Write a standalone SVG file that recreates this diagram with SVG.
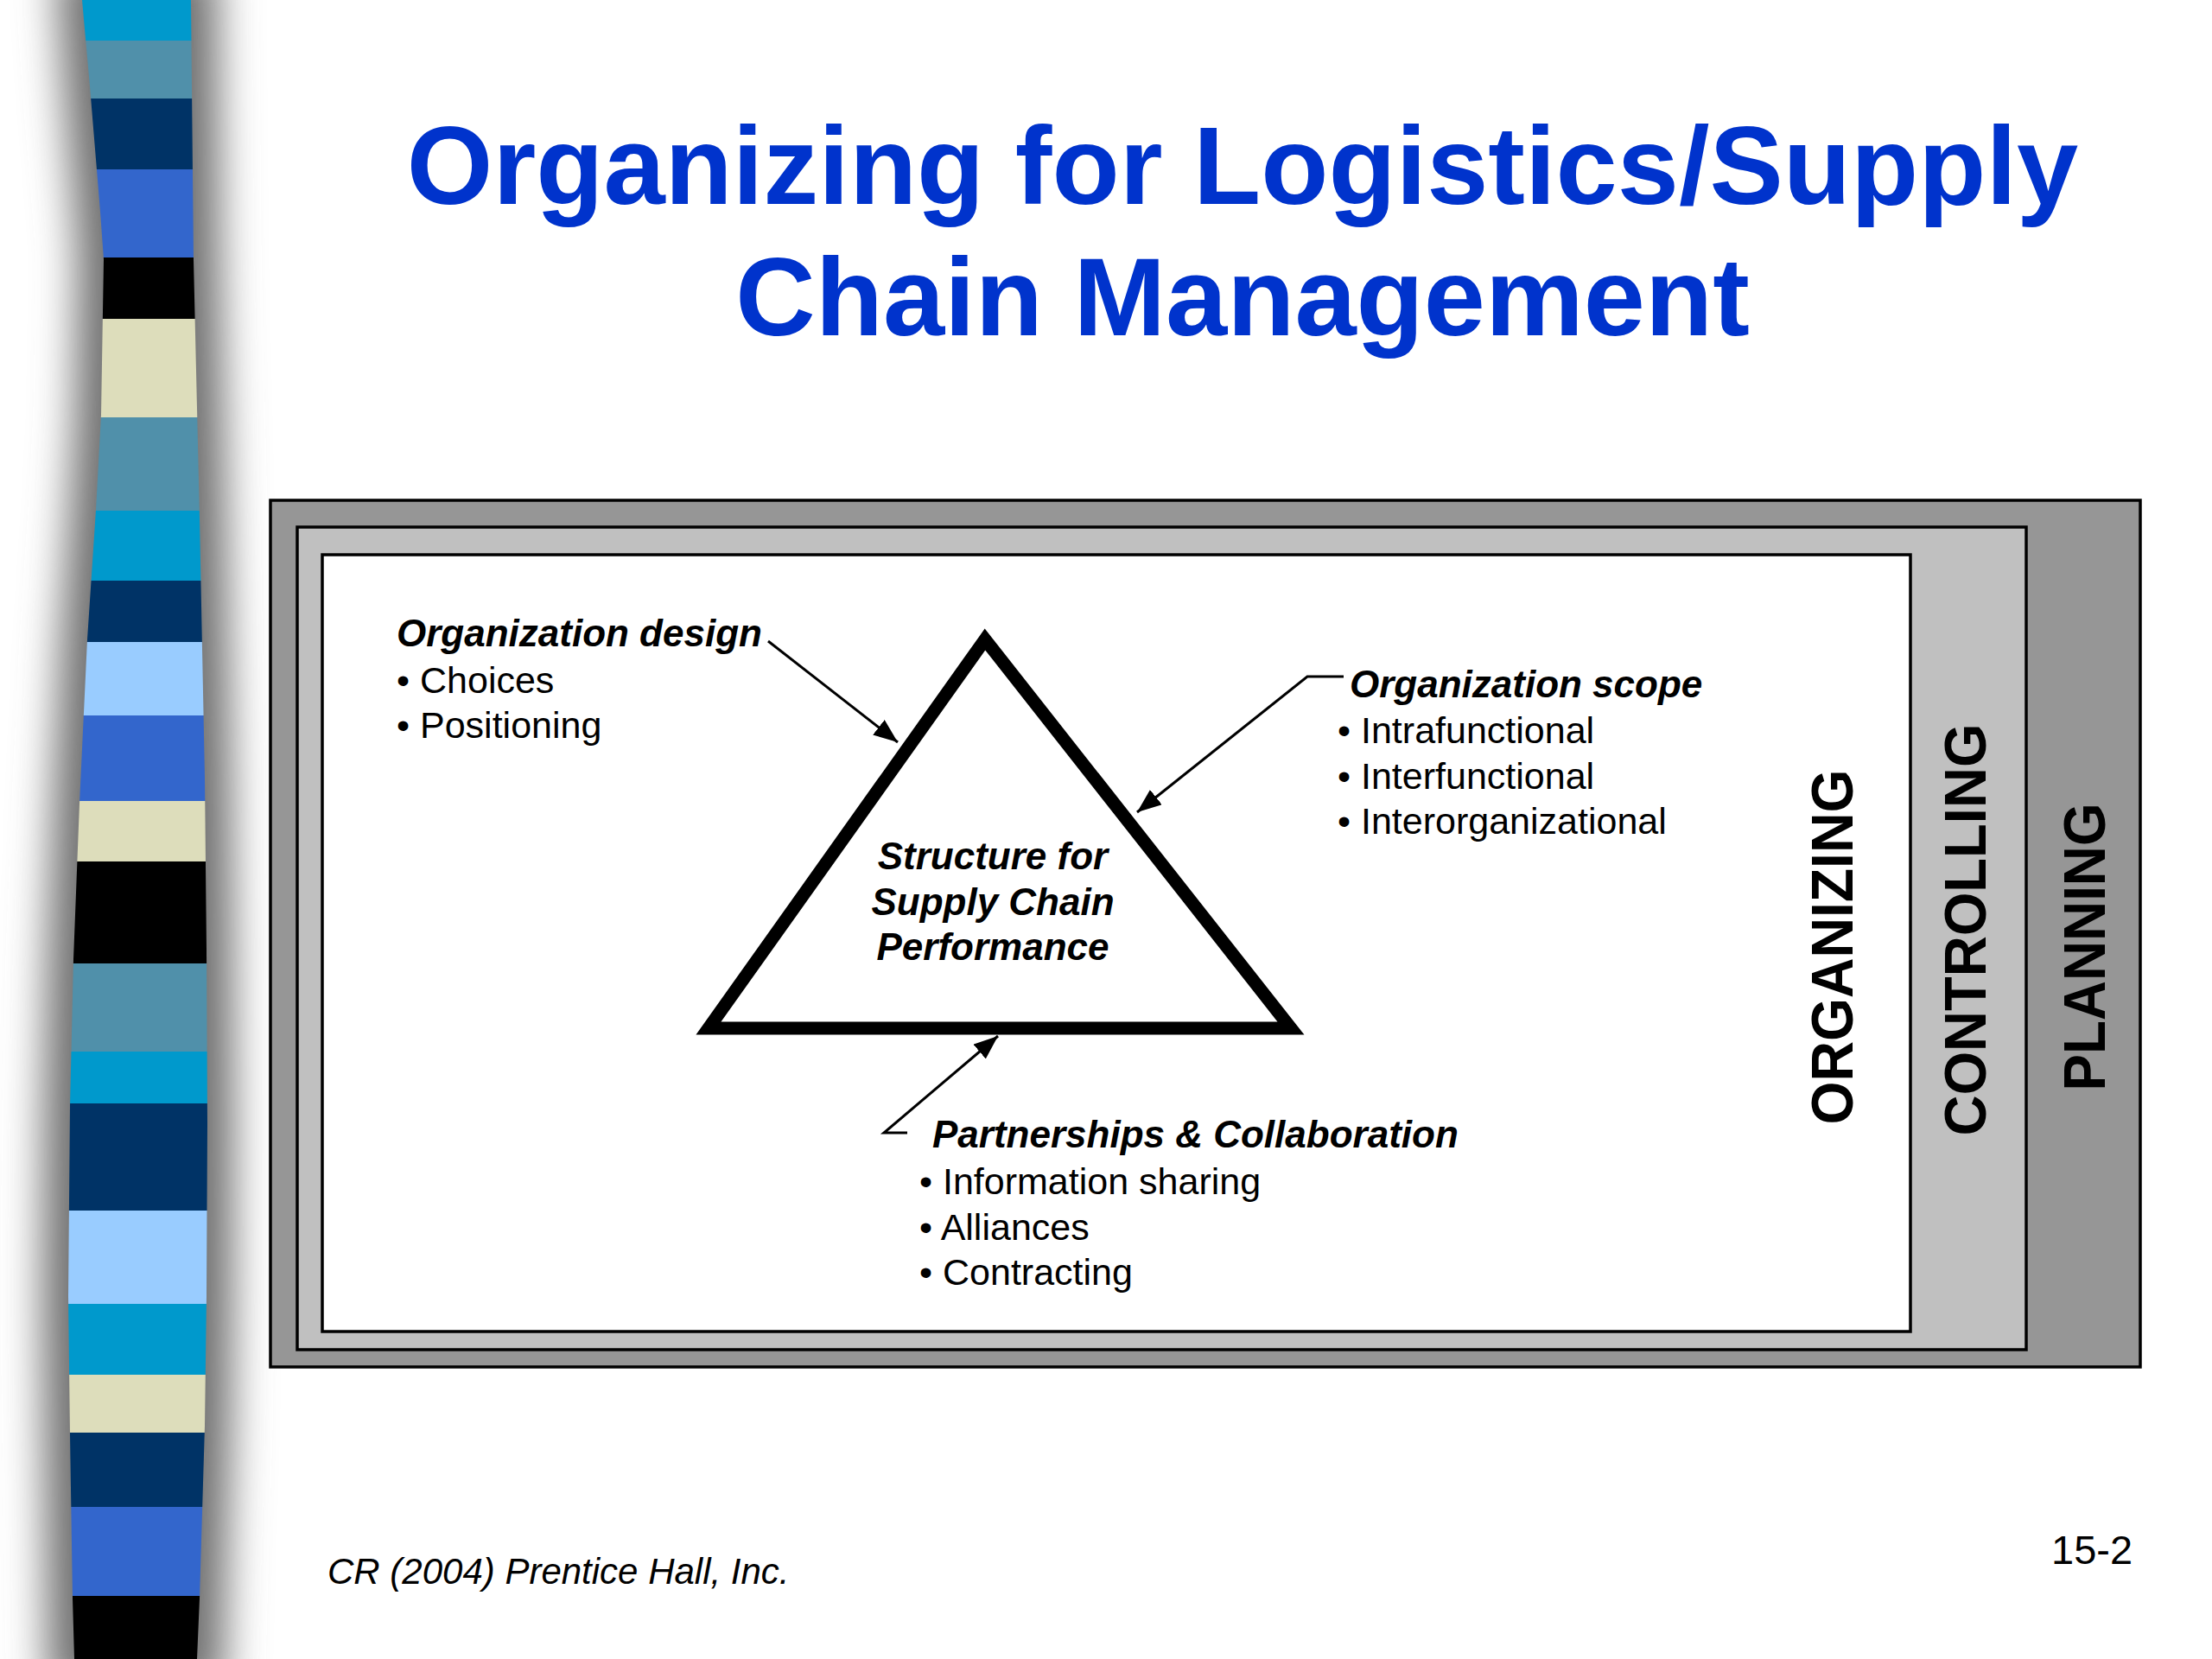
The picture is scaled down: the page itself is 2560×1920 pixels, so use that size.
<svg xmlns="http://www.w3.org/2000/svg" width="2560" height="1920" viewBox="0 0 2560 1920">
<style>
.title{font-family:"Liberation Sans",Arial,Helvetica,sans-serif;font-weight:bold;font-size:128px;fill:#0033CC;text-anchor:middle}
.hd{font-family:"Liberation Sans",Arial,Helvetica,sans-serif;font-weight:bold;font-style:italic;font-size:44px;fill:#000}
.bl{font-family:"Liberation Sans",Arial,Helvetica,sans-serif;font-size:43px;fill:#000}
.vt{font-family:"Liberation Sans",Arial,Helvetica,sans-serif;font-weight:bold;font-size:68px;fill:#000;text-anchor:middle}
.ft{font-family:"Liberation Sans",Arial,Helvetica,sans-serif;font-style:italic;font-size:42px;fill:#000}
.pg{font-family:"Liberation Sans",Arial,Helvetica,sans-serif;font-size:47px;fill:#000}
.frame{stroke:#000;stroke-width:3.5}
.conn{fill:none;stroke:#000;stroke-width:3;marker-end:url(#arr)}
</style>
<defs>
<marker id="arr" viewBox="0 0 28 22" refX="28" refY="11" markerWidth="28" markerHeight="22" markerUnits="userSpaceOnUse" orient="auto">
<path d="M0,0 L28,11 L0,22 z" fill="#000"/>
</marker>
<path id="bandShape" d="M95,0 L104,100 L116,245 L120,300 L117,480 L111,590 L101,740 L92,930 L85,1110 L81,1280 L79,1500 L81,1660 L84,1850 L86,1920 L228,1920 L231,1850 L237,1650 L239,1500 L240,1300 L239,1100 L237,900 L231,600 L224,300 L221,0 Z"/>
<clipPath id="bandClip"><use href="#bandShape"/></clipPath>
<filter id="blur" x="-50%" y="-5%" width="200%" height="110%"><feGaussianBlur stdDeviation="24"/></filter>
</defs>
<rect width="2560" height="1920" fill="#fff"/>
<g id="stripe-bar">
<path d="M65,-40 L74,100 L86,245 L90,300 L87,480 L81,590 L71,740 L62,930 L55,1110 L51,1280 L49,1500 L51,1660 L54,1850 L56,1960 L258,1960 L261,1850 L267,1650 L269,1500 L270,1300 L269,1100 L267,900 L261,600 L254,300 L251,-40 Z" fill="#707070" filter="url(#blur)"/>
<g clip-path="url(#bandClip)">
<rect x="0" y="0" width="300" height="47" fill="#0099CC"/>
<rect x="0" y="47" width="300" height="67" fill="#5090AA"/>
<rect x="0" y="114" width="300" height="82" fill="#003366"/>
<rect x="0" y="196" width="300" height="102" fill="#3366CC"/>
<rect x="0" y="298" width="300" height="71" fill="#000000"/>
<rect x="0" y="369" width="300" height="114" fill="#DDDDBB"/>
<rect x="0" y="483" width="300" height="108" fill="#5090AA"/>
<rect x="0" y="591" width="300" height="81" fill="#0099CC"/>
<rect x="0" y="672" width="300" height="71" fill="#003366"/>
<rect x="0" y="743" width="300" height="85" fill="#99CCFF"/>
<rect x="0" y="828" width="300" height="99" fill="#3366CC"/>
<rect x="0" y="927" width="300" height="70" fill="#DDDDBB"/>
<rect x="0" y="997" width="300" height="118" fill="#000000"/>
<rect x="0" y="1115" width="300" height="102" fill="#5090AA"/>
<rect x="0" y="1217" width="300" height="60" fill="#0099CC"/>
<rect x="0" y="1277" width="300" height="124" fill="#003366"/>
<rect x="0" y="1401" width="300" height="108" fill="#99CCFF"/>
<rect x="0" y="1509" width="300" height="82" fill="#0099CC"/>
<rect x="0" y="1591" width="300" height="67" fill="#DDDDBB"/>
<rect x="0" y="1658" width="300" height="86" fill="#003366"/>
<rect x="0" y="1744" width="300" height="103" fill="#3366CC"/>
<rect x="0" y="1847" width="300" height="73" fill="#000000"/>
</g>
</g>
<g id="title">
<text class="title" x="1438" y="236">Organizing for Logistics/Supply</text>
<text class="title" x="1438" y="388">Chain Management</text>
</g>
<g id="frame-planning">
<rect class="frame" x="313" y="579" width="2164" height="1003" fill="#969696"/>
<text class="vt" transform="translate(2436,1096) rotate(-90)" textLength="333" lengthAdjust="spacingAndGlyphs">PLANNING</text>
</g>
<g id="frame-controlling">
<rect class="frame" x="344" y="610" width="2001" height="952" fill="#C0C0C0"/>
<text class="vt" transform="translate(2298,1076) rotate(-90)" textLength="477" lengthAdjust="spacingAndGlyphs">CONTROLLING</text>
</g>
<g id="frame-organizing">
<rect class="frame" x="373" y="642" width="1838" height="899" fill="#FFFFFF"/>
<text class="vt" transform="translate(2144,1096) rotate(-90)" textLength="411" lengthAdjust="spacingAndGlyphs">ORGANIZING</text>
</g>
<g id="node-triangle">
<polygon points="1140,740 820,1190 1494,1190" fill="#fff" stroke="#000" stroke-width="15" stroke-linejoin="miter"/>
<text class="hd" x="1149" y="1006" text-anchor="middle">Structure for</text>
<text class="hd" x="1149" y="1059" text-anchor="middle">Supply Chain</text>
<text class="hd" x="1149" y="1111" text-anchor="middle">Performance</text>
</g>
<g id="node-org-design">
<text class="hd" x="459" y="748">Organization design</text>
<text class="bl" x="459" y="802">• Choices</text>
<text class="bl" x="459" y="854">• Positioning</text>
</g>
<g id="node-org-scope">
<text class="hd" x="1562" y="807">Organization scope</text>
<text class="bl" x="1548" y="860">• Intrafunctional</text>
<text class="bl" x="1548" y="913">• Interfunctional</text>
<text class="bl" x="1548" y="965">• Interorganizational</text>
</g>
<g id="node-partnerships">
<text class="hd" x="1079" y="1328">Partnerships &amp; Collaboration</text>
<text class="bl" x="1064" y="1382">• Information sharing</text>
<text class="bl" x="1064" y="1435">• Alliances</text>
<text class="bl" x="1064" y="1487">• Contracting</text>
</g>
<g id="connectors">
<path class="conn" d="M889,742 L1039,859"/>
<path class="conn" d="M1555,783 L1513,783 L1316,940"/>
<path class="conn" d="M1050,1311 L1023,1311 L1155,1199"/>
</g>
<g id="footer">
<text class="ft" x="379" y="1833">CR (2004) Prentice Hall, Inc.</text>
<text class="pg" x="2374" y="1810">15-2</text>
</g>
</svg>
